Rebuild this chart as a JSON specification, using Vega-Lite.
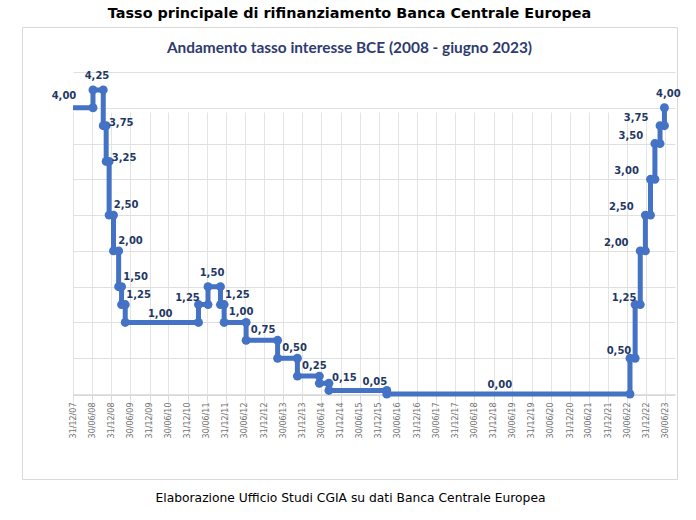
{
  "$schema": "https://vega.github.io/schema/vega-lite/v6.json",
  "width": 655,
  "height": 452,
  "autosize": "none",
  "padding": {"left": 22, "top": 27, "right": 19, "bottom": 41},
  "background": "white",
  "title": {
    "text": "Tasso principale di rifinanziamento Banca Centrale Europea",
    "subtitle": "Andamento tasso interesse BCE (2008 - giugno 2023)",
    "font": "DejaVu Sans", "fontSize": 14.4, "fontWeight": "bold", "color": "#000000",
    "subtitleFont": "Lato", "subtitleFontSize": 15.4, "subtitleFontWeight": "bold", "subtitleColor": "#2E3B6E",
    "subtitlePadding": 19, "offset": -30, "anchor": "middle"
  },
  "config": {
    "view": {"stroke": "#D9D9D9", "strokeWidth": 1, "fill": "white"},
    "text": {"font": "DejaVu Sans", "fontSize": 10, "fontWeight": "bold", "color": "#1F3864", "align": "center", "baseline": "middle"}
  },
  "data": {
    "values": [
      {"i": 0, "d": "2007-12-31", "r": 4.00, "t": "4,00"},
      {"i": 1, "d": "2008-07-09", "r": 4.00},
      {"i": 2, "d": "2008-07-09", "r": 4.25, "t": "4,25"},
      {"i": 3, "d": "2008-10-15", "r": 4.25},
      {"i": 4, "d": "2008-10-15", "r": 3.75, "t": "3,75"},
      {"i": 5, "d": "2008-11-12", "r": 3.75},
      {"i": 6, "d": "2008-11-12", "r": 3.25, "t": "3,25"},
      {"i": 7, "d": "2008-12-10", "r": 3.25},
      {"i": 8, "d": "2008-12-10", "r": 2.50, "t": "2,50"},
      {"i": 9, "d": "2009-01-21", "r": 2.50},
      {"i": 10, "d": "2009-01-21", "r": 2.00, "t": "2,00"},
      {"i": 11, "d": "2009-03-11", "r": 2.00},
      {"i": 12, "d": "2009-03-11", "r": 1.50, "t": "1,50"},
      {"i": 13, "d": "2009-04-08", "r": 1.50},
      {"i": 14, "d": "2009-04-08", "r": 1.25, "t": "1,25"},
      {"i": 15, "d": "2009-05-13", "r": 1.25},
      {"i": 16, "d": "2009-05-13", "r": 1.00, "t": "1,00"},
      {"i": 17, "d": "2011-04-13", "r": 1.00},
      {"i": 18, "d": "2011-04-13", "r": 1.25, "t": "1,25"},
      {"i": 19, "d": "2011-07-13", "r": 1.25},
      {"i": 20, "d": "2011-07-13", "r": 1.50, "t": "1,50"},
      {"i": 21, "d": "2011-11-09", "r": 1.50},
      {"i": 22, "d": "2011-11-09", "r": 1.25, "t": "1,25"},
      {"i": 23, "d": "2011-12-14", "r": 1.25},
      {"i": 24, "d": "2011-12-14", "r": 1.00, "t": "1,00"},
      {"i": 25, "d": "2012-07-11", "r": 1.00},
      {"i": 26, "d": "2012-07-11", "r": 0.75, "t": "0,75"},
      {"i": 27, "d": "2013-05-08", "r": 0.75},
      {"i": 28, "d": "2013-05-08", "r": 0.50, "t": "0,50"},
      {"i": 29, "d": "2013-11-13", "r": 0.50},
      {"i": 30, "d": "2013-11-13", "r": 0.25, "t": "0,25"},
      {"i": 31, "d": "2014-06-11", "r": 0.25},
      {"i": 32, "d": "2014-06-11", "r": 0.15, "t": "0,15"},
      {"i": 33, "d": "2014-09-10", "r": 0.15},
      {"i": 34, "d": "2014-09-10", "r": 0.05, "t": "0,05"},
      {"i": 35, "d": "2016-03-16", "r": 0.05},
      {"i": 36, "d": "2016-03-16", "r": 0.00, "t": "0,00"},
      {"i": 37, "d": "2022-07-27", "r": 0.00},
      {"i": 38, "d": "2022-07-27", "r": 0.50, "t": "0,50"},
      {"i": 39, "d": "2022-09-14", "r": 0.50},
      {"i": 40, "d": "2022-09-14", "r": 1.25, "t": "1,25"},
      {"i": 41, "d": "2022-11-02", "r": 1.25},
      {"i": 42, "d": "2022-11-02", "r": 2.00, "t": "2,00"},
      {"i": 43, "d": "2022-12-21", "r": 2.00},
      {"i": 44, "d": "2022-12-21", "r": 2.50, "t": "2,50"},
      {"i": 45, "d": "2023-02-08", "r": 2.50},
      {"i": 46, "d": "2023-02-08", "r": 3.00, "t": "3,00"},
      {"i": 47, "d": "2023-03-22", "r": 3.00},
      {"i": 48, "d": "2023-03-22", "r": 3.50, "t": "3,50"},
      {"i": 49, "d": "2023-05-10", "r": 3.50},
      {"i": 50, "d": "2023-05-10", "r": 3.75, "t": "3,75"},
      {"i": 51, "d": "2023-06-21", "r": 3.75},
      {"i": 52, "d": "2023-06-21", "r": 4.00, "t": "4,00"}
    ]
  },
  "encoding": {
    "x": {
      "field": "d", "type": "temporal",
      "scale": {
        "type": "utc",
        "domain": [{"year": 2007, "month": 12, "date": 31, "utc": true}, {"year": 2023, "month": 9, "date": 30, "utc": true}],
        "range": [51, 653]
      },
      "axis": {
        "values": [
          {"year": 2007, "month": 12, "date": 31, "utc": true},
          {"year": 2008, "month": 6, "date": 30, "utc": true},
          {"year": 2008, "month": 12, "date": 31, "utc": true},
          {"year": 2009, "month": 6, "date": 30, "utc": true},
          {"year": 2009, "month": 12, "date": 31, "utc": true},
          {"year": 2010, "month": 6, "date": 30, "utc": true},
          {"year": 2010, "month": 12, "date": 31, "utc": true},
          {"year": 2011, "month": 6, "date": 30, "utc": true},
          {"year": 2011, "month": 12, "date": 31, "utc": true},
          {"year": 2012, "month": 6, "date": 30, "utc": true},
          {"year": 2012, "month": 12, "date": 31, "utc": true},
          {"year": 2013, "month": 6, "date": 30, "utc": true},
          {"year": 2013, "month": 12, "date": 31, "utc": true},
          {"year": 2014, "month": 6, "date": 30, "utc": true},
          {"year": 2014, "month": 12, "date": 31, "utc": true},
          {"year": 2015, "month": 6, "date": 30, "utc": true},
          {"year": 2015, "month": 12, "date": 31, "utc": true},
          {"year": 2016, "month": 6, "date": 30, "utc": true},
          {"year": 2016, "month": 12, "date": 31, "utc": true},
          {"year": 2017, "month": 6, "date": 30, "utc": true},
          {"year": 2017, "month": 12, "date": 31, "utc": true},
          {"year": 2018, "month": 6, "date": 30, "utc": true},
          {"year": 2018, "month": 12, "date": 31, "utc": true},
          {"year": 2019, "month": 6, "date": 30, "utc": true},
          {"year": 2019, "month": 12, "date": 31, "utc": true},
          {"year": 2020, "month": 6, "date": 30, "utc": true},
          {"year": 2020, "month": 12, "date": 31, "utc": true},
          {"year": 2021, "month": 6, "date": 30, "utc": true},
          {"year": 2021, "month": 12, "date": 31, "utc": true},
          {"year": 2022, "month": 6, "date": 30, "utc": true},
          {"year": 2022, "month": 12, "date": 31, "utc": true},
          {"year": 2023, "month": 6, "date": 30, "utc": true}
        ],
        "format": "%d/%m/%y",
        "labelAngle": -90,
        "labelFont": "DejaVu Sans",
        "labelFontSize": 8,
        "labelColor": "#737373",
        "labelPadding": 3,
        "ticks": true,
        "tickSize": 4,
        "tickColor": "#D9D9D9",
        "domain": true,
        "domainColor": "#D9D9D9",
        "grid": true,
        "gridColor": "#E4E4E4",
        "offset": -84,
        "title": "Elaborazione Ufficio Studi CGIA su dati Banca Centrale Europea",
        "titleFont": "DejaVu Sans",
        "titleFontSize": 12.3,
        "titleFontWeight": "normal",
        "titleColor": "#000000",
        "titleX": 328,
        "titleY": 102,
        "titleAlign": "center",
        "titleBaseline": "middle",
        "titleAngle": 0
      }
    },
    "y": {
      "field": "r", "type": "quantitative",
      "scale": {"domain": [0, 4.5], "range": [367, 45], "nice": false, "zero": false},
      "axis": {
        "values": [0, 0.5, 1, 1.5, 2, 2.5, 3, 3.5, 4, 4.5],
        "labels": false, "ticks": false, "domain": false, "title": null,
        "grid": true, "gridColor": "#E0E0E0"
      }
    }
  },
  "layer": [
    {
      "mark": {"type": "line", "color": "#4472C4", "strokeWidth": 5, "strokeJoin": "round"},
      "encoding": {"order": {"field": "i", "type": "quantitative"}}
    },
    {
      "transform": [{"filter": "datum.i > 0"}],
      "mark": {"type": "circle", "color": "#4472C4", "size": 80, "opacity": 1}
    },
    {
      "transform": [{"filter": "indexof([4, 6], datum.i) >= 0"}],
      "mark": {"type": "text", "dx": 18, "dy": -3},
      "encoding": {"text": {"field": "t"}}
    },
    {
      "transform": [{"filter": "indexof([8, 10, 12, 14, 22, 24, 26, 28, 30], datum.i) >= 0"}],
      "mark": {"type": "text", "dx": 17, "dy": -10},
      "encoding": {"text": {"field": "t"}}
    },
    {
      "transform": [{"filter": "indexof([2, 20, 52], datum.i) >= 0"}],
      "mark": {"type": "text", "dx": 4, "dy": -14},
      "encoding": {"text": {"field": "t"}}
    },
    {
      "transform": [{"filter": "indexof([18, 38, 40], datum.i) >= 0"}],
      "mark": {"type": "text", "dx": -11, "dy": -7},
      "encoding": {"text": {"field": "t"}}
    },
    {
      "transform": [{"filter": "indexof([42, 44, 46, 48, 50], datum.i) >= 0"}],
      "mark": {"type": "text", "dx": -24, "dy": -8},
      "encoding": {"text": {"field": "t"}}
    },
    {
      "transform": [{"filter": "datum.i == 0"}],
      "mark": {"type": "text", "dx": -9, "dy": -12},
      "encoding": {"text": {"field": "t"}}
    },
    {
      "transform": [{"filter": "datum.i == 16"}],
      "mark": {"type": "text", "dx": 35, "dy": -8},
      "encoding": {"text": {"field": "t"}}
    },
    {
      "transform": [{"filter": "datum.i == 32"}],
      "mark": {"type": "text", "dx": 25, "dy": -5},
      "encoding": {"text": {"field": "t"}}
    },
    {
      "transform": [{"filter": "datum.i == 34"}],
      "mark": {"type": "text", "dx": 46, "dy": -8},
      "encoding": {"text": {"field": "t"}}
    },
    {
      "transform": [{"filter": "datum.i == 36"}],
      "mark": {"type": "text", "dx": 113, "dy": -9},
      "encoding": {"text": {"field": "t"}}
    }
  ]
}
